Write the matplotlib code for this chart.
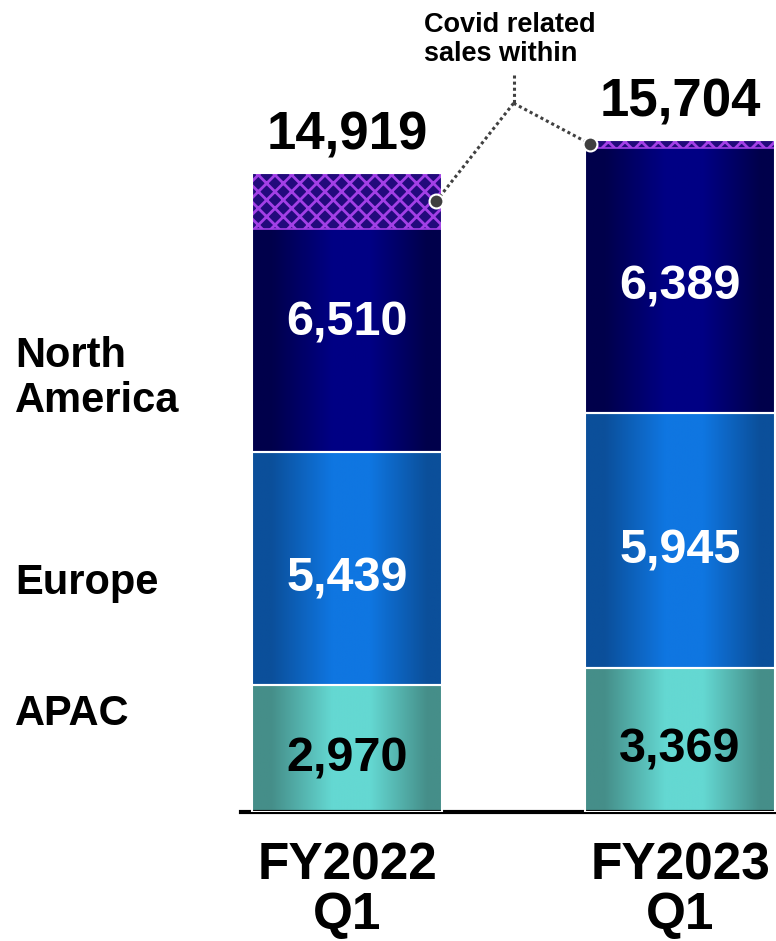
import numpy as np
import matplotlib
matplotlib.use("Agg")
import matplotlib.pyplot as plt
from matplotlib.colors import LinearSegmentedColormap
from matplotlib.patches import Rectangle

# Quarterly sales by region (stacked), with Covid-related sales inside North America
periods = ["FY2022\nQ1", "FY2023\nQ1"]
apac = [2970, 3369]
europe = [5439, 5945]
north_america = [6510, 6389]
covid_within_na = [1300, 190]
totals = [14919, 15704]

plt.rcParams['font.family'] = ['Liberation Sans', 'DejaVu Sans']
plt.rcParams['hatch.linewidth'] = 2.0

W, H = 776, 941
fig = plt.figure(figsize=(W / 100, H / 100), dpi=100)
base_px = 812
ax = fig.add_axes([0, (H - base_px) / H, 1, base_px / H])

x = np.arange(len(periods))
bar_w = 0.571
ax.set_xlim(-1.042, 1.288)
ax.set_ylim(0, 18972)


def metallic(dark, light):
    return LinearSegmentedColormap.from_list(
        "metal", [(0, dark), (0.1, dark), (0.42, light), (0.62, light), (0.92, dark), (1, dark)])


grad = np.linspace(0, 1, 256)[None, :]
segments = [
    (apac, metallic("#458e89", "#64d8d2"), "black"),
    (europe, metallic("#0b4f9a", "#0f76e1"), "white"),
    (north_america, metallic("#00004b", "#000084"), "white"),
]

bottoms = np.zeros(len(periods))
for values, cmap, txt_color in segments:
    for i, v in enumerate(values):
        x0, x1 = x[i] - bar_w / 2, x[i] + bar_w / 2
        y0, y1 = bottoms[i], bottoms[i] + v
        ax.imshow(grad, cmap=cmap, extent=[x0, x1, y0, y1], aspect="auto",
                  interpolation="bilinear", zorder=1)
        ax.add_patch(Rectangle((x0, y0), bar_w, v, fill=False, edgecolor="white",
                               linewidth=1.5, zorder=3))
        ax.annotate(f"{v:,}", (x[i], y0 + v / 2), xytext=(0, -4),
                    textcoords="offset points", ha="center", va="center_baseline",
                    fontsize=35, fontweight="bold", color=txt_color, zorder=4)
    bottoms += np.array(values)

# Covid-related share at the top of the North America segment
for i, c in enumerate(covid_within_na):
    ax.add_patch(Rectangle((x[i] - bar_w / 2, totals[i] - c), bar_w, c,
                           facecolor="#220a7c", edgecolor="#a23fe6", hatch="xx",
                           linewidth=1.2, zorder=2))

# Totals above the bars
for i, t in enumerate(totals):
    ax.annotate(f"{t:,}", (x[i], t), xytext=(0, 17), textcoords="offset points",
                ha="center", va="baseline", fontsize=38, fontweight="bold")

ax.set_aspect("auto")
ax.set_xlim(-1.042, 1.288)
ax.set_ylim(0, 18972)

# Baseline and category labels
for s in ["top", "left", "right"]:
    ax.spines[s].set_visible(False)
ax.spines["bottom"].set_bounds(-0.318, 1.288)
ax.spines["bottom"].set_linewidth(3)
ax.set_yticks([])
ax.set_xticks(x, periods, fontsize=37, fontweight="bold", linespacing=1.03)
ax.tick_params(axis="x", length=0, pad=21)

# Region labels on the left
fig.text(15 / W, 1 - 336 / H, "North\nAmerica", ha="left", va="top",
         fontsize=30, fontweight="bold", linespacing=1.15)
fig.text(15 / W, 1 - 563 / H, "Europe", ha="left", va="top",
         fontsize=30, fontweight="bold")
fig.text(15 / W, 1 - 694 / H, "APAC", ha="left", va="top",
         fontsize=30, fontweight="bold")

# Callout for Covid-related sales
fig.text(424 / W, 1 - 12 / H, "Covid related\nsales within", ha="left", va="top",
         fontsize=19.5, fontweight="bold", linespacing=1.13)
joint = (0.5, 16560)
top = (0.5, 17220)
dot1 = (x[0] + bar_w / 2 - 0.018, totals[0] - covid_within_na[0] / 2)
dot2 = (x[1] - bar_w / 2 + 0.015, totals[1] - covid_within_na[1] / 2)
dotted = dict(color="#404040", linewidth=2.2, linestyle=(0, (1, 1)), zorder=5,
              clip_on=False)
ax.plot([top[0], joint[0]], [top[1], joint[1]], **dotted)
ax.plot([joint[0], dot1[0]], [joint[1], dot1[1]], **dotted)
ax.plot([joint[0], dot2[0]], [joint[1], dot2[1]], **dotted)
ax.plot([dot1[0], dot2[0]], [dot1[1], dot2[1]], linestyle="none", marker="o",
        markersize=10, markerfacecolor="#3f3f3f", markeredgecolor="white",
        markeredgewidth=1.5, zorder=6)

fig.savefig("out.png", dpi=100)
